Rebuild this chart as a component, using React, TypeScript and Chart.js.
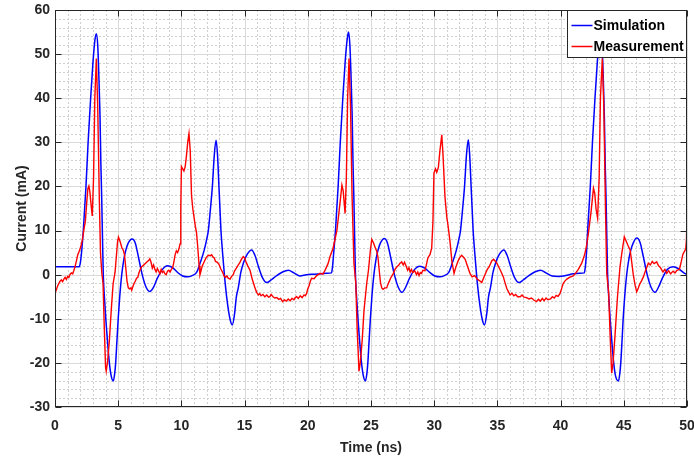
import { useEffect, useRef } from "react";
import { Chart, registerables } from "chart.js";

Chart.register(...registerables);

// ---------------- data ----------------
const seriesLabels = ["Simulation", "Measurement"];
const xLimits = [0, 50];
const yLimits = [-30, 60];
const xAxisTitle = "Time (ns)";
const yAxisTitle = "Current (mA)";

const simTime = [
  0, 1.92, 2.0, 2.1, 2.24, 2.45, 2.62, 2.82, 3.0, 3.15, 3.27, 3.38, 3.47, 3.56, 3.63, 3.69, 3.76, 3.82, 3.93, 4.03,
  4.15, 4.3, 4.45, 4.61, 4.72, 4.8, 4.9, 5.0, 5.12, 5.28, 5.45, 5.6, 5.8, 6.1, 6.35, 6.6, 6.9, 7.2, 7.5, 7.8,
  8.1, 8.5, 8.9, 9.3, 9.7, 10.1, 10.5, 10.85, 11.2, 11.5, 11.8, 12.0, 12.13, 12.3, 12.45, 12.6, 12.74, 12.85, 12.97, 13.05,
  13.13, 13.27, 13.4, 13.6, 13.84, 14.03, 14.2, 14.35, 14.5, 14.7, 14.9, 15.2, 15.56, 15.8, 16.1, 16.4, 16.75, 17.1, 17.5, 18.0,
  18.46, 18.9, 19.38, 19.9, 20.5, 21.0, 21.5, 21.87, 21.95, 22.05, 22.19, 22.4, 22.57, 22.77, 22.95, 23.1, 23.22, 23.33, 23.42, 23.51,
  23.58, 23.64, 23.71, 23.77, 23.88, 23.98, 24.1, 24.25, 24.4, 24.56, 24.67, 24.75, 24.85, 24.95, 25.07, 25.23, 25.4, 25.55, 25.75, 26.05,
  26.3, 26.55, 26.85, 27.15, 27.45, 27.75, 28.05, 28.45, 28.85, 29.25, 29.65, 30.05, 30.45, 30.8, 31.15, 31.45, 31.75, 31.95, 32.08, 32.25,
  32.4, 32.55, 32.7, 32.8, 32.92, 33.0, 33.08, 33.22, 33.35, 33.55, 33.79, 33.98, 34.15, 34.3, 34.45, 34.65, 34.85, 35.15, 35.51, 35.75,
  36.05, 36.35, 36.7, 37.05, 37.45, 37.95, 38.41, 38.85, 39.33, 39.85, 40.4, 41.0, 41.5, 41.87, 41.95, 42.05, 42.14, 42.35, 42.52, 42.72,
  42.9, 43.05, 43.17, 43.28, 43.37, 43.46, 43.53, 43.59, 43.66, 43.72, 43.83, 43.93, 44.05, 44.2, 44.35, 44.58, 44.68, 44.76, 44.86, 44.95,
  45.07, 45.23, 45.4, 45.55, 45.75, 46.02, 46.3, 46.55, 46.85, 47.15, 47.47, 47.75, 48.05, 48.45, 48.9, 49.3, 49.7, 50.0,
];
const simCurrent = [
  1.8, 1.8, 2.6, 5, 10, 20, 30, 40, 48, 53, 54.6, 52, 45, 36, 25, 18, 8, 0, -6, -10.5,
  -15, -20, -23, -24.1, -22.5, -20, -15, -10, -5, 0, 3.5, 5.5, 7.2, 8.1, 7.2, 4, 0, -2.8, -3.8, -2.8,
  -0.8, 1.2, 2, 1.6, 0.5, -0.3, -0.5, -0.2, 0.5, 2.8, 5.5, 8, 10, 15, 20, 27, 30.5, 27.5, 20, 15,
  10, 4.5, 0, -5.5, -10, -11.4, -9, -5, -3, 0.5, 2.6, 4.6, 5.6, 4.5, 1.8, -0.6, -1.8, -1.2, -0.3, 0.6,
  1.0, 0.4, -0.3, 0.0, 0.1, 0.2, 0.3, 0.4, 1.6, 5, 10, 20, 30, 40, 48, 53, 55, 52, 45, 36,
  25, 18, 8, 0, -6, -10.5, -15, -20, -23, -24.1, -22.5, -20, -15, -10, -5, 0, 3.5, 5.5, 7.2, 8.2,
  7.2, 4, 0, -2.8, -4.0, -2.8, -0.8, 1.2, 1.9, 1.5, 0.5, -0.3, -0.5, -0.2, 0.5, 2.8, 5.5, 8, 10, 15,
  20, 27, 30.6, 27.5, 20, 15, 10, 4.5, 0, -5.5, -10, -11.4, -9, -5, -3, 0.5, 2.6, 4.6, 5.6, 4.5,
  1.8, -0.6, -1.8, -1.2, -0.3, 0.6, 1.0, 0.4, -0.3, -0.4, -0.2, 0.2, 0.3, 0.4, 1.6, 5, 10, 20, 30, 40,
  48, 53, 54.6, 52, 45, 36, 25, 18, 8, 0, -6, -10.5, -15, -20, -23, -24.1, -22.5, -20, -15, -10,
  -5, 0, 3.5, 5.5, 7.2, 8.3, 7.2, 4, 0, -2.8, -4.0, -2.8, -0.8, 1.2, 1.8, 1.4, 0.5, 0.0,
];

const measTime = [
  0, 0.1, 0.2, 0.3, 0.4, 0.5, 0.6, 0.7, 0.8, 0.9, 1.0, 1.1, 1.2, 1.3, 1.4, 1.5, 1.6, 1.7, 1.8, 1.9,
  2.0, 2.1, 2.2, 2.3, 2.4, 2.5, 2.6, 2.68, 2.75, 2.85, 2.95, 3.05, 3.15, 3.27, 3.38, 3.5, 3.6, 3.7, 3.8, 3.9,
  4.0, 4.05, 4.15, 4.3, 4.45, 4.6, 4.75, 4.85, 4.95, 5.02, 5.15, 5.3, 5.4, 5.5, 5.6, 5.7, 5.8, 5.9, 6.0, 6.07,
  6.15, 6.25, 6.35, 6.45, 6.55, 6.65, 6.75, 6.85, 6.95, 7.1, 7.25, 7.4, 7.5, 7.6, 7.7, 7.8, 7.9, 8.0, 8.1, 8.2,
  8.3, 8.4, 8.5, 8.6, 8.7, 8.8, 8.9, 9.0, 9.1, 9.2, 9.3, 9.4, 9.5, 9.6, 9.7, 9.8, 9.9, 9.95, 10.0, 10.1,
  10.2, 10.3, 10.4, 10.5, 10.6, 10.7, 10.8, 10.9, 11.0, 11.1, 11.2, 11.3, 11.4, 11.47, 11.55, 11.65, 11.75, 11.85, 11.95, 12.05,
  12.15, 12.3, 12.4, 12.5, 12.6, 12.7, 12.85, 13.0, 13.1, 13.25, 13.4, 13.5, 13.6, 13.7, 13.85, 13.95, 14.1, 14.2, 14.35, 14.5,
  14.6, 14.75, 14.9, 15.0, 15.1, 15.25, 15.43, 15.6, 15.8, 15.95, 16.1, 16.2, 16.3, 16.45, 16.6, 16.75, 16.9, 17.0, 17.1, 17.25,
  17.4, 17.55, 17.7, 17.85, 18.0, 18.15, 18.3, 18.45, 18.6, 18.75, 18.9, 19.0, 19.12, 19.25, 19.4, 19.55, 19.7, 19.8, 19.9, 20.0,
  20.1, 20.2, 20.3, 20.5, 20.7, 20.97, 21.2, 21.4, 21.6, 21.76, 22.0, 22.3, 22.5, 22.7, 22.8, 22.95, 23.05, 23.15, 23.26, 23.38,
  23.5, 23.65, 23.8, 23.9, 24.05, 24.15, 24.3, 24.45, 24.66, 24.8, 24.95, 25.06, 25.2, 25.35, 25.45, 25.55, 25.65, 25.75, 25.85, 25.95,
  26.1, 26.24, 26.4, 26.55, 26.77, 26.9, 27.05, 27.2, 27.3, 27.43, 27.55, 27.65, 27.8, 27.9, 28.0, 28.1, 28.2, 28.3, 28.45, 28.6,
  28.7, 28.8, 28.9, 29.0, 29.1, 29.27, 29.4, 29.5, 29.67, 29.8, 29.9, 29.98, 30.1, 30.2, 30.33, 30.45, 30.6, 30.7, 30.85, 31.0,
  31.1, 31.25, 31.4, 31.57, 31.7, 31.85, 32.0, 32.17, 32.3, 32.45, 32.6, 32.83, 33.0, 33.2, 33.4, 33.6, 33.76, 33.9, 34.05, 34.2,
  34.35, 34.55, 34.7, 34.85, 34.95, 35.1, 35.3, 35.47, 35.6, 35.75, 35.9, 36.0, 36.15, 36.3, 36.45, 36.6, 36.8, 36.95, 37.1, 37.3,
  37.5, 37.7, 37.9, 38.1, 38.25, 38.4, 38.55, 38.7, 38.85, 39.0, 39.2, 39.35, 39.5, 39.65, 39.8, 39.95, 40.1, 40.2, 40.35, 40.5,
  40.7, 41.0, 41.2, 41.4, 41.67, 41.9, 42.05, 42.2, 42.4, 42.6, 42.7, 42.8, 42.93, 43.05, 43.15, 43.3, 43.42, 43.55, 43.65, 43.8,
  43.92, 44.04, 44.15, 44.3, 44.5, 44.7, 44.85, 45.04, 45.2, 45.35, 45.5, 45.6, 45.75, 45.9, 46.02, 46.15, 46.25, 46.4, 46.55, 46.7,
  46.94, 47.1, 47.25, 47.4, 47.6, 47.75, 47.9, 48.1, 48.25, 48.4, 48.55, 48.7, 48.9, 49.05, 49.2, 49.4, 49.55, 49.67, 49.8, 49.9,
  49.96, 50.0,
];
const measCurrent = [
  -4.2, -3.5, -2.6, -2.0, -1.5, -1.2, -1.6, -1.0, -0.6, -1.1, -0.4, -0.6, 0.1, 0.4, 0.2, 1.0, 2.0, 3.2, 4.5, 5.2,
  6.0, 7.0, 8.5, 10.5, 12.0, 16, 19.5, 20.1, 19, 16, 13.3, 22, 40, 49, 38, 18, 5, 0.5, -2, -12,
  -21, -21.9, -20, -15, -8, -2, 0.5, 4, 7.5, 8.5, 7.5, 6, 5.6, 4.5, 1.5, -1.5, -3.0, -3.2, -3.0, -3.5,
  -2.8, -2.0, -1.5, -0.8, -0.6, 0.5, 1.2, 1.8, 2.0, 2.4, 2.8, 3.2, 3.6, 2.8, 1.5, 2.2, 1.2, 0.6, 1.4, 0.8,
  0.2, 1.2, 0.5, 0.8, 0.2, 0.0, 0.8, 1.0, 0.6, 1.2, 1.5, 2.8, 4.5, 5.4, 5.0, 5.8, 7.0, 15, 24.5, 24.0,
  23.5, 24.5, 27, 30, 32, 28, 18, 15, 13, 11, 9.4, 6, 2, 0, 0.8, 2.0, 2.6, 3.2, 3.8, 4.2,
  4.4, 4.3, 4.5, 4.0, 3.8, 3.0, 2.8, 2.2, 1.4, 0.6, -0.4, -0.6, -0.3, -0.8, -1.0, -0.5, 0.0, 0.8, 1.5, 2.2,
  2.6, 3.5, 4.1, 3.8, 3.0, 2.0, 1.0, -1.0, -2.8, -4.0, -4.6, -4.3, -4.8, -4.5, -5.0, -4.6, -5.1, -5.0, -4.5, -5.0,
  -5.3, -5.2, -5.6, -5.4, -6.1, -5.7, -6.0, -5.5, -5.9, -5.4, -5.7, -5.2, -5.0, -5.4, -4.8, -5.2, -4.6, -4.8, -4.3, -3.2,
  -2.5, -1.5, -0.8, -0.9, -0.2, 0.3, 0.1, 1.2, 2.5, 4.1, 6, 10, 15, 20.3, 19, 13.9, 22, 40, 49, 38,
  18, 2.6, -2, -12, -21.9, -20, -15, -8, -2, 1, 5.5, 8, 7.2, 6, 5.4, 4, 1, -1.8, -3.0, -3.3,
  -3.0, -3.0, -1.8, -0.8, 0.3, 1.2, 1.8, 2.2, 2.6, 2.9, 2.2, 2.8, 1.8, 1.0, 1.6, 0.6, 1.2, 0.5, 0.9, 0.0,
  0.6, -0.2, 0.5, 0.3, 1.0, 0.9, 2.5, 3.8, 4.6, 6.0, 12, 23, 24, 23.2, 24.3, 28, 31.7, 27, 17.7, 13,
  11, 7.5, 3, 0.3, 1.6, 2.8, 3.8, 4.4, 4.0, 3.5, 2.2, 0.3, -0.5, -0.2, -1.0, -1.4, -1.8, -0.8, 0.2, 1.2,
  1.8, 3.1, 3.5, 3.0, 2.6, 1.8, 0.6, -0.5, -1.8, -3.2, -4.0, -4.6, -4.2, -4.8, -4.5, -5.0, -5.0, -4.6, -5.1, -5.2,
  -5.5, -5.3, -5.8, -6.1, -5.6, -6.0, -5.4, -5.9, -5.3, -5.7, -5.5, -5.0, -5.3, -4.7, -4.9, -4.3, -3.0, -2.0, -1.4, -1.0,
  -0.6, -0.3, 0.4, 1.2, 2.6, 4.5, 6.5, 9.4, 14, 19.6, 18.5, 15, 12.8, 22, 40, 49, 38, 15, 0.3, -4,
  -14, -22.3, -20, -14, -5, 1.8, 5, 8.6, 7.5, 6.5, 5.6, 3.5, 0, -2.5, -3.9, -3.0, -2.2, -1.4, -0.5, 0.8,
  2.6, 2.2, 3.0, 2.5, 2.9, 2.0, 1.6, 0.6, 1.2, 0.3, 0.9, 0.2, 0.8, 0.4, 1.0, 1.2, 3.0, 4.6, 5.3, 5.8,
  8, 13.6,
];

// ---------------- style ----------------
const FONT = "'Liberation Sans', Arial, Helvetica, sans-serif";
const AXIS_COLOR = "#262626";
const SIM_COLOR = "#0000ff";
const MEAS_COLOR = "#ff0000";
const xMajorStep = 5;
const xMinorStep = 1;
const yMajorStep = 10;
const yMinorStep = 2;

const zip = (xs: number[], ys: number[]) => xs.map((x, i) => ({ x, y: ys[i] }));

const matlabPlugin = {
  id: "matlabLook",
  beforeDatasetsDraw(chart: any) {
    const { ctx, chartArea: a, scales } = chart;
    const xs = scales.x;
    const ys = scales.y;
    ctx.save();
    ctx.lineWidth = 1;
    // minor grid (dotted)
    ctx.strokeStyle = "#cfcfcf";
    ctx.setLineDash([2, 2]);
    for (let v = xLimits[0]; v <= xLimits[1]; v += xMinorStep) {
      if (v % xMajorStep === 0) continue;
      const p = Math.round(xs.getPixelForValue(v)) + 0.5;
      ctx.beginPath();
      ctx.moveTo(p, a.top);
      ctx.lineTo(p, a.bottom);
      ctx.stroke();
    }
    for (let v = yLimits[0]; v <= yLimits[1]; v += yMinorStep) {
      if (v % yMajorStep === 0) continue;
      const p = Math.round(ys.getPixelForValue(v)) + 0.5;
      ctx.beginPath();
      ctx.moveTo(a.left, p);
      ctx.lineTo(a.right, p);
      ctx.stroke();
    }
    // major grid (solid)
    ctx.setLineDash([]);
    ctx.strokeStyle = "#d9d9d9";
    for (let v = xLimits[0]; v <= xLimits[1]; v += xMajorStep) {
      const p = Math.round(xs.getPixelForValue(v)) + 0.5;
      ctx.beginPath();
      ctx.moveTo(p, a.top);
      ctx.lineTo(p, a.bottom);
      ctx.stroke();
    }
    for (let v = yLimits[0]; v <= yLimits[1]; v += yMajorStep) {
      const p = Math.round(ys.getPixelForValue(v)) + 0.5;
      ctx.beginPath();
      ctx.moveTo(a.left, p);
      ctx.lineTo(a.right, p);
      ctx.stroke();
    }
    ctx.restore();
  },
  afterDatasetsDraw(chart: any) {
    const { ctx, chartArea: a, scales } = chart;
    const xs = scales.x;
    const ys = scales.y;
    ctx.save();
    ctx.strokeStyle = AXIS_COLOR;
    ctx.lineWidth = 1;
    ctx.setLineDash([]);
    const L = Math.round(a.left) + 0.5;
    const R = Math.round(a.right) - 0.5;
    const T = Math.round(a.top) + 0.5;
    const B = Math.round(a.bottom) - 0.5;
    ctx.strokeRect(L, T, R - L, B - T);
    const tl = 6;
    ctx.beginPath();
    for (let v = xLimits[0]; v <= xLimits[1]; v += xMajorStep) {
      const p = Math.round(xs.getPixelForValue(v)) + 0.5;
      ctx.moveTo(p, B);
      ctx.lineTo(p, B - tl);
      ctx.moveTo(p, T);
      ctx.lineTo(p, T + tl);
    }
    for (let v = yLimits[0]; v <= yLimits[1]; v += yMajorStep) {
      const p = Math.round(ys.getPixelForValue(v)) + 0.5;
      ctx.moveTo(L, p);
      ctx.lineTo(L + tl, p);
      ctx.moveTo(R, p);
      ctx.lineTo(R - tl, p);
    }
    ctx.stroke();

    // legend box (top-right, inside axes)
    const w = 119;
    const h = 47;
    const bx = R - w;
    const by = T;
    ctx.fillStyle = "#ffffff";
    ctx.fillRect(bx, by, w, h);
    ctx.strokeRect(bx, by, w, h);
    const ds = chart.data.datasets;
    const rows = [by + 14, by + 35];
    ds.forEach((d: any, i: number) => {
      const yy = Math.round(rows[i]) + 0.5;
      ctx.strokeStyle = d.borderColor;
      ctx.lineWidth = 1.5;
      ctx.beginPath();
      ctx.moveTo(bx + 4, yy);
      ctx.lineTo(bx + 25, yy);
      ctx.stroke();
      ctx.fillStyle = "#000000";
      ctx.font = `bold 14px ${FONT}`;
      ctx.textAlign = "left";
      ctx.textBaseline = "middle";
      ctx.fillText(d.label, bx + 26, yy + 1);
    });
    ctx.restore();
  },
};

export default function App() {
  const ref = useRef<HTMLCanvasElement | null>(null);

  useEffect(() => {
    if (!ref.current) return;
    const chart = new Chart(ref.current, {
      type: "line",
      data: {
        datasets: [
          {
            label: seriesLabels[0],
            data: zip(simTime, simCurrent),
            borderColor: SIM_COLOR,
            borderWidth: 1.5,
            pointRadius: 0,
            cubicInterpolationMode: "monotone",
            fill: false,
            order: 1,
          },
          {
            label: seriesLabels[1],
            data: zip(measTime, measCurrent),
            borderColor: MEAS_COLOR,
            borderWidth: 1.4,
            pointRadius: 0,
            tension: 0,
            fill: false,
            order: 0,
          },
        ],
      },
      options: {
        animation: false,
        responsive: true,
        maintainAspectRatio: false,
        layout: { padding: { top: 10, right: 7, left: 0, bottom: 0 } },
        plugins: {
          legend: { display: false },
          tooltip: { enabled: false },
        },
        scales: {
          x: {
            type: "linear",
            min: xLimits[0],
            max: xLimits[1],
            grid: { display: false, drawTicks: false },
            border: { display: false },
            ticks: {
              stepSize: xMajorStep,
              color: AXIS_COLOR,
              font: { family: FONT, size: 14, weight: "bold" },
              padding: 11,
              maxRotation: 0,
            },
            title: {
              display: true,
              text: xAxisTitle,
              color: AXIS_COLOR,
              font: { family: FONT, size: 14, weight: "bold" },
              padding: { top: 0, bottom: 2 },
            },
            afterFit(scale: any) {
              scale.height = 52;
              scale.paddingLeft = 0;
              scale.paddingRight = 0;
            },
          },
          y: {
            type: "linear",
            min: yLimits[0],
            max: yLimits[1],
            grid: { display: false, drawTicks: false },
            border: { display: false },
            ticks: {
              stepSize: yMajorStep,
              color: AXIS_COLOR,
              font: { family: FONT, size: 14, weight: "bold" },
              padding: 5,
            },
            title: {
              display: true,
              text: yAxisTitle,
              color: AXIS_COLOR,
              font: { family: FONT, size: 14, weight: "bold" },
              padding: { top: 14, bottom: 0 },
            },
            afterFit(scale: any) {
              scale.width = 55;
              scale.paddingTop = 0;
              scale.paddingBottom = 0;
            },
          },
        },
      },
      plugins: [matlabPlugin],
    } as any);
    return () => chart.destroy();
  }, []);

  return (
    <div style={{ position: "absolute", left: 0, top: 0, width: 694, height: 459, background: "#fff" }}>
      <canvas ref={ref} />
    </div>
  );
}
